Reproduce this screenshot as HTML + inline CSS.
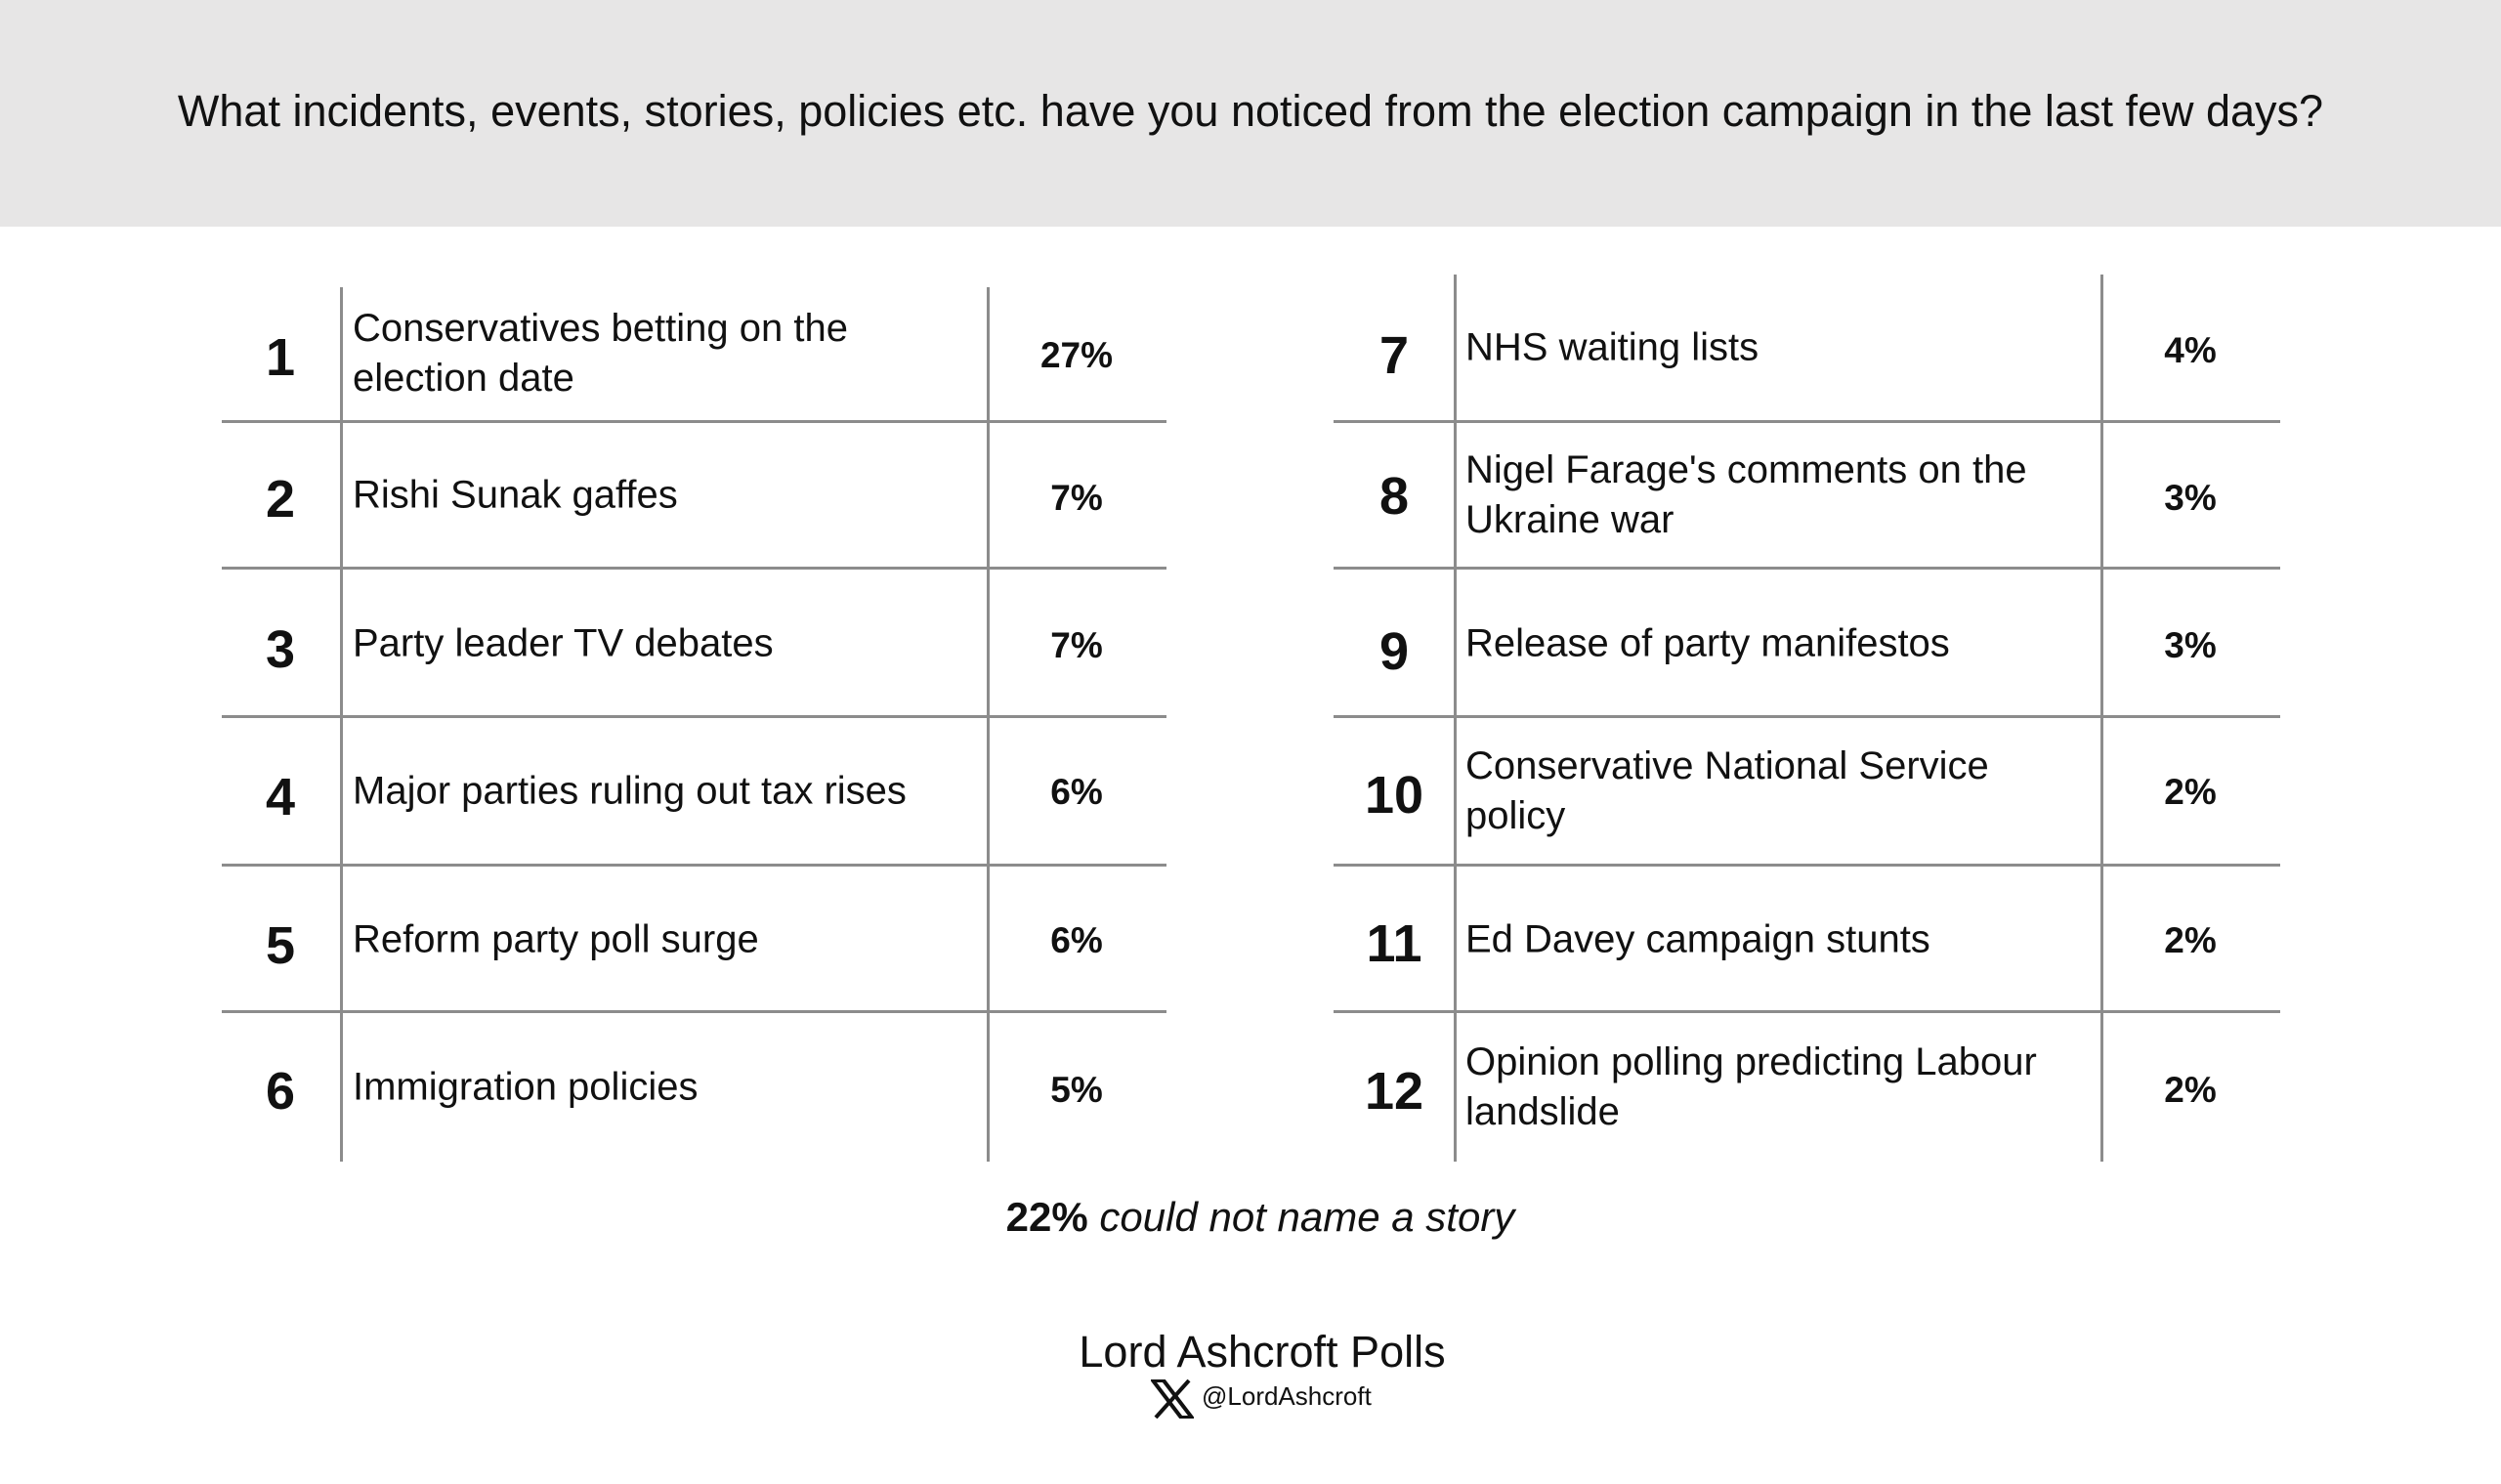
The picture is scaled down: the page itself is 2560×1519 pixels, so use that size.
<!DOCTYPE html>
<html><head><meta charset="utf-8"><style>
body{margin:0;width:2560px;height:1519px;background:#fff;position:relative;overflow:hidden;font-family:"Liberation Sans",sans-serif;color:#111}
.hdr{position:absolute;left:0;top:0;width:2560px;height:232px;background:#e7e6e6}
.title{position:absolute;left:0;width:2560px;top:86px;text-align:center;font-size:45px;line-height:56px}
.h{position:absolute;height:3px;background:#8c8c8c}
.v{position:absolute;width:3px;background:#8c8c8c}
.num{position:absolute;width:120px;text-align:center;font-weight:bold;font-size:54px;transform:translate(-60px,-50%)}
.txt{position:absolute;font-size:40px;line-height:51px;transform:translateY(-50%)}
.pct{position:absolute;width:160px;text-align:center;font-weight:bold;font-size:37px;transform:translate(-80px,-50%)}
</style></head><body>
<div class="hdr"></div>
<div class="title">What incidents, events, stories, policies etc. have you noticed from the election campaign in the last few days?</div>

<div class="v" style="left:348px;top:294px;height:895px"></div>
<div class="v" style="left:1010px;top:294px;height:895px"></div>
<div class="h" style="left:227px;width:967px;top:430px"></div>
<div class="h" style="left:227px;width:967px;top:580px"></div>
<div class="h" style="left:227px;width:967px;top:732px"></div>
<div class="h" style="left:227px;width:967px;top:884px"></div>
<div class="h" style="left:227px;width:967px;top:1034px"></div>
<div class="v" style="left:1488px;top:281px;height:908px"></div>
<div class="v" style="left:2150px;top:281px;height:908px"></div>
<div class="h" style="left:1365px;width:969px;top:430px"></div>
<div class="h" style="left:1365px;width:969px;top:580px"></div>
<div class="h" style="left:1365px;width:969px;top:732px"></div>
<div class="h" style="left:1365px;width:969px;top:884px"></div>
<div class="h" style="left:1365px;width:969px;top:1034px"></div>

<div class="num" style="left:287px;top:366px">1</div>
<div class="txt" style="left:361px;top:362px">Conservatives betting on the<br>election date</div>
<div class="pct" style="left:1102px;top:364px">27%</div>
<div class="num" style="left:287px;top:511px">2</div>
<div class="txt" style="left:361px;top:507px">Rishi Sunak gaffes</div>
<div class="pct" style="left:1102px;top:510px">7%</div>
<div class="num" style="left:287px;top:665px">3</div>
<div class="txt" style="left:361px;top:659px">Party leader TV debates</div>
<div class="pct" style="left:1102px;top:661px">7%</div>
<div class="num" style="left:287px;top:816px">4</div>
<div class="txt" style="left:361px;top:810px">Major parties ruling out tax rises</div>
<div class="pct" style="left:1102px;top:811px">6%</div>
<div class="num" style="left:287px;top:968px">5</div>
<div class="txt" style="left:361px;top:962px">Reform party poll surge</div>
<div class="pct" style="left:1102px;top:963px">6%</div>
<div class="num" style="left:287px;top:1117px">6</div>
<div class="txt" style="left:361px;top:1113px">Immigration policies</div>
<div class="pct" style="left:1102px;top:1116px">5%</div>

<div class="num" style="left:1427px;top:364px">7</div>
<div class="txt" style="left:1500px;top:356px">NHS waiting lists</div>
<div class="pct" style="left:2242px;top:359px">4%</div>
<div class="num" style="left:1427px;top:508px">8</div>
<div class="txt" style="left:1500px;top:507px">Nigel Farage's comments on the<br>Ukraine war</div>
<div class="pct" style="left:2242px;top:510px">3%</div>
<div class="num" style="left:1427px;top:667px">9</div>
<div class="txt" style="left:1500px;top:659px">Release of party manifestos</div>
<div class="pct" style="left:2242px;top:661px">3%</div>
<div class="num" style="left:1427px;top:814px">10</div>
<div class="txt" style="left:1500px;top:810px">Conservative National Service<br>policy</div>
<div class="pct" style="left:2242px;top:811px">2%</div>
<div class="num" style="left:1427px;top:966px">11</div>
<div class="txt" style="left:1500px;top:962px">Ed Davey campaign stunts</div>
<div class="pct" style="left:2242px;top:963px">2%</div>
<div class="num" style="left:1427px;top:1117px">12</div>
<div class="txt" style="left:1500px;top:1113px">Opinion polling predicting Labour<br>landslide</div>
<div class="pct" style="left:2242px;top:1116px">2%</div>

<div style="position:absolute;left:0;width:2580px;top:1222px;text-align:center;font-size:42px;font-style:italic"><b style="font-style:normal">22%</b> could not name a story</div>
<div style="position:absolute;left:0;width:2584px;top:1358px;text-align:center;font-size:45px">Lord Ashcroft Polls</div>
<div style="position:absolute;left:1178px;top:1412px;width:44px;height:40px">
<svg width="44" height="40" viewBox="0 0 44 40"><path d="M2 1h11l29 38H31z" fill="none" stroke="#111" stroke-width="4"/><path d="M39 1L5 39" stroke="#111" stroke-width="4"/></svg></div>
<div style="position:absolute;left:1230px;top:1414px;font-size:26px">@LordAshcroft</div>
</body></html>
